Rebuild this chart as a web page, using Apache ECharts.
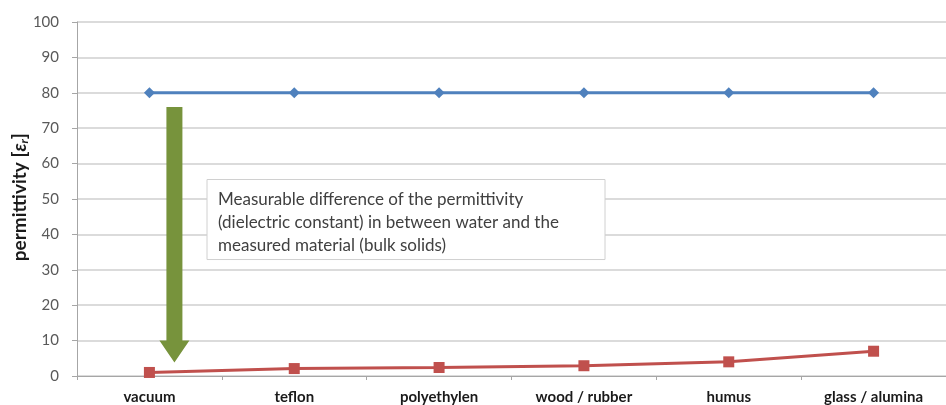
<!DOCTYPE html>
<html><head><meta charset="utf-8">
<script src="https://cdn.jsdelivr.net/npm/echarts@6/dist/echarts.min.js"></script>
<style>html,body{margin:0;padding:0;background:#fff}#c{width:946px;height:405px}</style>
</head><body><div id="c"></div>
<script>
const categories = ['vacuum','teflon','polyethylen','wood / rubber','humus','glass / alumina'];
const waterValues = [80, 80, 80, 80, 80, 80];
const materialValues = [1, 2.1, 2.4, 2.9, 4, 7];
const yTicks = [0,10,20,30,40,50,60,70,80,90,100];
const arrowFrom = 76, arrowTo = 3.8;
const noteLines = ['Measurable difference of the permittivity','(dielectric constant) in between water and the','measured material (bulk solids)'];

const chart = echarts.init(document.getElementById('c'));
const FONT = 'Lato';
chart.setOption({
  animation: false,
  textStyle: {fontFamily: FONT},
  grid: {left: 77, top: 22, width: 876, height: 354},
  xAxis: {
    type: 'category', data: categories, boundaryGap: true,
    axisLine: {lineStyle: {color: '#a6a6a6', width: 1}},
    axisTick: {show: true, length: 4, lineStyle: {color: '#a6a6a6'}},
    axisLabel: {color: '#1a1a1a', fontWeight: 'bold', fontSize: 15, fontFamily: FONT, margin: 14}
  },
  yAxis: {
    type: 'value', min: 0, max: 100, interval: 10,
    axisLine: {show: true, lineStyle: {color: '#a6a6a6'}},
    axisTick: {show: true, length: 5, lineStyle: {color: '#a6a6a6'}},
    axisLabel: {color: '#595959', fontSize: 15, fontFamily: FONT, margin: 18,
      formatter: v => yTicks.includes(v) ? String(v) : ''},
    splitLine: {lineStyle: {color: '#cfcfcf', width: 1.5}}
  },
  series: [
    {type: 'line', data: waterValues, symbol: 'diamond', symbolSize: 11,
     lineStyle: {color: '#4F81BD', width: 3}, itemStyle: {color: '#4F81BD'}, z: 3},
    {type: 'line', data: materialValues, symbol: 'rect', symbolSize: 11,
     lineStyle: {color: '#C0504D', width: 3}, itemStyle: {color: '#C0504D'}, z: 3}
  ]
});

function drawAnnotations(){
  const p0 = chart.convertToPixel({xAxisIndex:0, yAxisIndex:0}, [0, arrowFrom]);
  const p1 = chart.convertToPixel({xAxisIndex:0, yAxisIndex:0}, [0, arrowTo]);
  const mid = chart.convertToPixel({yAxisIndex:0}, 50.5);
  const cx = p0[0] + 25;
  const shaftHalf = 8, headHalf = 15, headLen = 22;
  const tipY = p1[1];
  const headTop = tipY - headLen;
  const boxTop = chart.convertToPixel({yAxisIndex:0}, 55.5);
  const boxBottom = chart.convertToPixel({yAxisIndex:0}, 32.9);
  chart.setOption({graphic: [
    {type: 'text', z: 11, x: 20, y: mid, rotation: Math.PI / 2,
     style: {text: '{a|permittivity [}{e|ε}{s|r}{a|]}', align: 'center', verticalAlign: 'middle',
       rich: {
         a: {fontSize: 19, fontWeight: 'bold', fill: '#1a1a1a', fontFamily: FONT},
         e: {fontSize: 19, fontWeight: 'bold', fontStyle: 'italic', fill: '#1a1a1a', fontFamily: FONT},
         s: {fontSize: 12, fontWeight: 'bold', fontStyle: 'italic', fill: '#1a1a1a', fontFamily: FONT, padding: [8,0,0,0]}
       }}},
    {type: 'polygon', z: 10, shape: {points: [
      [cx - shaftHalf, p0[1]], [cx + shaftHalf, p0[1]], [cx + shaftHalf, headTop],
      [cx + headHalf, headTop], [cx, tipY], [cx - headHalf, headTop], [cx - shaftHalf, headTop]
    ]}, style: {fill: '#77933C'}},
    {type: 'rect', z: 10, shape: {x: 207, y: boxTop, width: 398, height: boxBottom - boxTop},
     style: {fill: '#ffffff', stroke: '#d0d0d0', lineWidth: 1}},
    {type: 'text', z: 11, left: 218, top: boxTop + 8,
     style: {text: noteLines.join('\n'), fontSize: 17, lineHeight: 23, fill: '#404040', fontFamily: FONT}}
  ]});
}
drawAnnotations();
</script>
</body></html>
